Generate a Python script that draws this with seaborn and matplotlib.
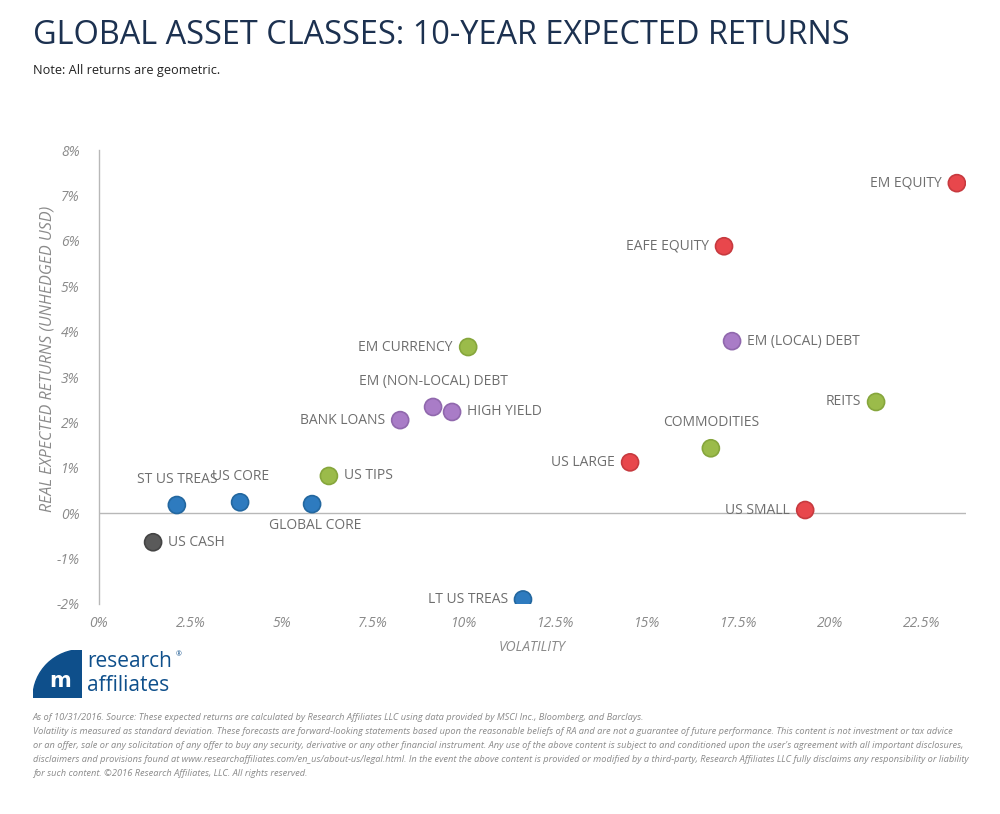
import matplotlib
matplotlib.use("Agg")
import matplotlib.pyplot as plt
import matplotlib.patches as mpatches
import matplotlib.ticker as mticker
import seaborn as sns
import pandas as pd

# Asset classes with volatility (%) and real expected return (%)
assets = ["EM EQUITY", "EAFE EQUITY", "EM (LOCAL) DEBT", "REITS", "COMMODITIES",
          "US LARGE", "US SMALL", "LT US TREAS", "EM CURRENCY", "EM (NON-LOCAL) DEBT",
          "HIGH YIELD", "BANK LOANS", "US TIPS", "ST US TREAS", "US CORE",
          "GLOBAL CORE", "US CASH"]
volatility = [23.47, 17.10, 17.32, 21.26, 16.74, 14.53, 19.32, 11.60, 10.10, 9.14,
              9.66, 8.24, 6.29, 2.13, 3.86, 5.83, 1.48]
expected_return = [7.27, 5.88, 3.79, 2.45, 1.43, 1.12, 0.07, -1.90, 3.66, 2.34,
                   2.23, 2.05, 0.82, 0.18, 0.24, 0.20, -0.64]
group = ["equity", "equity", "credit", "real", "real",
         "equity", "equity", "bond", "real", "credit",
         "credit", "credit", "real", "bond", "bond",
         "bond", "cash"]

# where each label sits relative to its dot
label_side = ["left", "left", "right", "left", "above",
              "left", "left", "left", "left", "above",
              "right", "left", "right", "above", "above",
              "below", "right"]

x_ticks = [0, 2.5, 5, 7.5, 10, 12.5, 15, 17.5, 20, 22.5]
x_tick_labels = ["0%", "2.5%", "5%", "7.5%", "10%", "12.5%", "15%", "17.5%", "20%", "22.5%"]
y_ticks = [-2, -1, 0, 1, 2, 3, 4, 5, 6, 7, 8]

palette = {"equity": "#e8474c", "credit": "#a97cc7", "real": "#9bbb4a",
           "bond": "#2e7bbf", "cash": "#5a5a5a"}
edge = {"equity": "#c73a3f", "credit": "#9068ad", "real": "#86a63c",
        "bond": "#23679f", "cash": "#444444"}

df = pd.DataFrame({"asset": assets, "vol": volatility, "ret": expected_return,
                   "group": group, "side": label_side})

sns.set_style("white")
plt.rcParams["font.family"] = ["Open Sans", "DejaVu Sans"]

fig = plt.figure(figsize=(10, 8.14), dpi=100)
ax = fig.add_axes([0.099, 0.258, 0.867, 0.5577])

sns.scatterplot(data=df, x="vol", y="ret", hue="group", palette=palette,
                s=150, linewidth=1.2, edgecolor=[edge[g] for g in df["group"]],
                legend=False, ax=ax, zorder=3)

ax.set_xlim(0, 23.72)
ax.set_ylim(-2, 8)
ax.set_xticks(x_ticks)
ax.set_xticklabels(x_tick_labels)
ax.set_yticks(y_ticks)
ax.yaxis.set_major_formatter(mticker.FuncFormatter(lambda v, p: f"{v:.0f}%"))

for s in ["top", "right", "bottom"]:
    ax.spines[s].set_visible(False)
ax.spines["left"].set_color("#b8b8b8")
ax.spines["left"].set_linewidth(1)
ax.axhline(0, color="#b8b8b8", lw=1, zorder=1)

ax.tick_params(axis="both", length=0, labelsize=10, labelcolor="#8a8a8a")
ax.tick_params(axis="y", pad=14)
ax.tick_params(axis="x", pad=9)
for lbl in ax.get_xticklabels() + ax.get_yticklabels():
    lbl.set_fontstyle("italic")

ax.set_xlabel("VOLATILITY", fontsize=10, color="#8a8a8a", style="italic", labelpad=6)
ax.set_ylabel("REAL EXPECTED RETURNS (UNHEDGED USD)", fontsize=11.5, color="#8a8a8a",
              style="italic", labelpad=4)
ax.yaxis.set_label_coords(-0.05, 0.54)

offsets = {"left": ((-11, 0), "right", "center"),
           "right": ((11, 0), "left", "center"),
           "above": ((0, 13), "center", "bottom"),
           "below": ((2, -10), "center", "top")}
for _, r in df.iterrows():
    off, ha, va = offsets[r["side"]]
    ax.annotate(r["asset"], (r["vol"], r["ret"]), xytext=off, textcoords="offset points",
                ha=ha, va=va, fontsize=10, color="#6e6e6e", zorder=4)

# title and note
fig.text(0.033, 0.957, "GLOBAL ASSET CLASSES: 10-YEAR EXPECTED RETURNS", fontsize=23.4,
         color="#1c3150", ha="left", va="center")
fig.text(0.033, 0.913, "Note: All returns are geometric.", fontsize=9.2, color="#222222",
         ha="left", va="center")

# logo
lax = fig.add_axes([0.033, 0.143, 0.049, 0.059])
lax.set_xlim(0, 1)
lax.set_ylim(0, 1)
lax.axis("off")
lax.add_patch(mpatches.Wedge((1, 0), 1, 90, 180, color="#0e4f8b"))
lax.text(0.55, 0.35, "m", fontsize=15, fontweight="bold", color="white",
         ha="center", va="center", family="DejaVu Sans")
fig.text(0.087, 0.187, "research", fontsize=15, color="#0e4f8b", ha="left", va="center")
fig.text(0.087, 0.158, "affiliates", fontsize=15, color="#0e4f8b", ha="left", va="center")
fig.text(0.176, 0.196, "®", fontsize=5, color="#0e4f8b", ha="left", va="center")

foot = [
    "As of 10/31/2016. Source: These expected returns are calculated by Research Affiliates LLC using data provided by MSCI Inc., Bloomberg, and Barclays.",
    "Volatility is measured as standard deviation. These forecasts are forward-looking statements based upon the reasonable beliefs of RA and are not a guarantee of future performance. This content is not investment or tax advice",
    "or an offer, sale or any solicitation of any offer to buy any security, derivative or any other financial instrument. Any use of the above content is subject to and conditioned upon the user's agreement with all important disclosures,",
    "disclaimers and provisions found at www.researchaffiliates.com/en_us/about-us/legal.html. In the event the above content is provided or modified by a third-party, Research Affiliates LLC fully disclaims any responsibility or liability",
    "for such content. ©2016 Research Affiliates, LLC. All rights reserved.",
]
for i, line in enumerate(foot):
    fig.text(0.033, 0.118 - i * 0.0172, line, fontsize=6.7, color="#8a8a8a",
             style="italic", ha="left", va="center")

fig.savefig("out.png", dpi=100, facecolor="white")
